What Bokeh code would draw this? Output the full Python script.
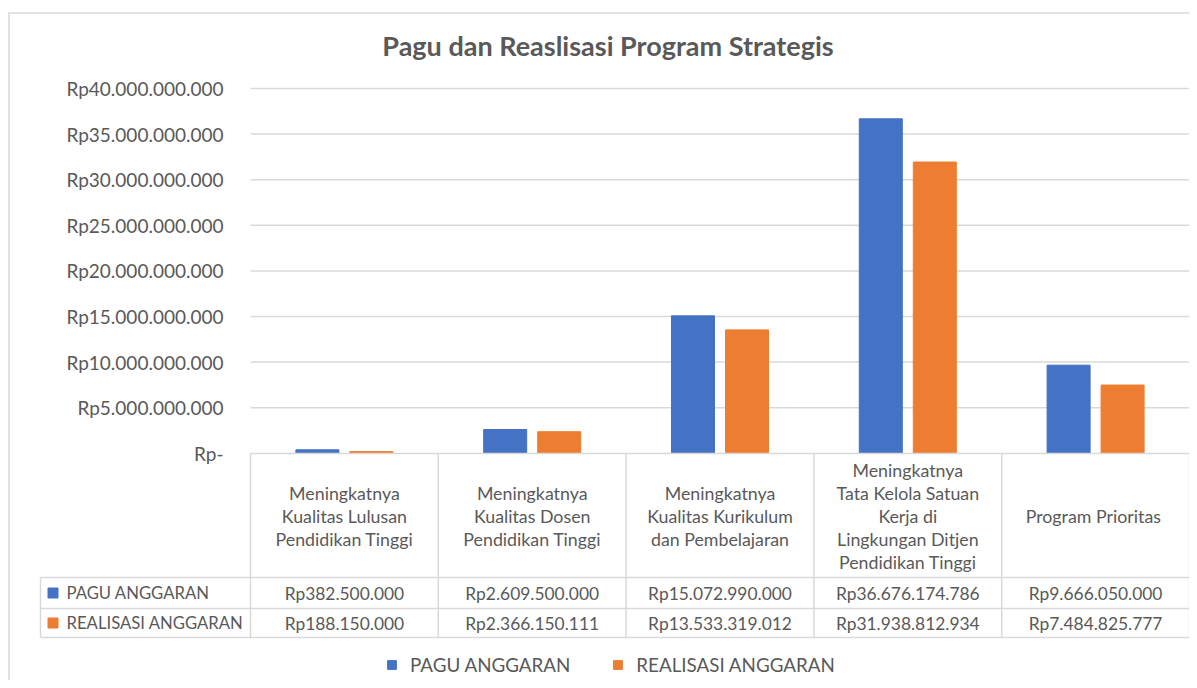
from bokeh.plotting import figure
from bokeh.models import Range1d, Legend, LegendItem
from bokeh.core.properties import value
from bokeh.embed import file_html
from bokeh.resources import INLINE

# ---------------- data ----------------
title_text = "Pagu dan Reaslisasi Program Strategis"
categories = [
    ["Meningkatnya", "Kualitas Lulusan", "Pendidikan Tinggi"],
    ["Meningkatnya", "Kualitas Dosen", "Pendidikan Tinggi"],
    ["Meningkatnya", "Kualitas Kurikulum", "dan Pembelajaran"],
    ["Meningkatnya", "Tata Kelola Satuan", "Kerja di", "Lingkungan Ditjen", "Pendidikan Tinggi"],
    ["Program  Prioritas"],
]
series_names = ["PAGU ANGGARAN", "REALISASI ANGGARAN"]
pagu = [382500000, 2609500000, 15072990000, 36676174786, 9666050000]
realisasi = [188150000, 2366150111, 13533319012, 31938812934, 7484825777]
pagu_labels = ["Rp382.500.000", "Rp2.609.500.000", "Rp15.072.990.000",
               "Rp36.676.174.786", "Rp9.666.050.000"]
realisasi_labels = ["Rp188.150.000", "Rp2.366.150.111", "Rp13.533.319.012",
                    "Rp31.938.812.934", "Rp7.484.825.777"]
tick_values = [0, 5e9, 10e9, 15e9, 20e9, 25e9, 30e9, 35e9, 40e9]
tick_labels = ["Rp-", "Rp5.000.000.000", "Rp10.000.000.000", "Rp15.000.000.000",
               "Rp20.000.000.000", "Rp25.000.000.000", "Rp30.000.000.000",
               "Rp35.000.000.000", "Rp40.000.000.000"]
colors = ["#4472C4", "#ED7D31"]

# ---------------- layout helpers (picture pixels -> data) ----------------
W, H = 1189, 680
PX0, CW = 250.0, 187.8          # left of plot area, column width
PY0, PLOT_H = 452.8, 364.8      # y of zero line, height of 0..40bn
K = 40e9 / PLOT_H


def xd(px):
    return (px - PX0) / CW


def yd(py):
    return (PY0 - py) * K


GRID = "#D9D9D9"
TXT = "#595959"
FONT = value("Lato")

p = figure(width=W, height=H, output_backend="svg", toolbar_location=None,
           x_range=Range1d(xd(0), xd(W)), y_range=Range1d(yd(H), yd(0)),
           min_border=0, min_border_left=0, min_border_right=0,
           min_border_top=0, min_border_bottom=0)
p.axis.visible = False
p.grid.visible = False
p.outline_line_color = None
p.background_fill_color = "white"
p.border_fill_color = "white"

# outer chart border (left/top visible in the picture)
p.segment(x0=[xd(8.5), xd(8)], y0=[yd(12), yd(12.5)],
          x1=[xd(8.5), xd(W + 10)], y1=[yd(H + 10), yd(12.5)],
          line_color=GRID, line_width=1.5)

# gridlines
n = len(pagu)
gt = [t for t in tick_values if t > 0]
p.segment(x0=[0] * len(gt), y0=gt, x1=[n] * len(gt), y1=gt,
          line_color=GRID, line_width=1.5)

# y tick labels
p.text(x=[xd(223)] * len(tick_values), y=tick_values, text=tick_labels,
       text_font=FONT, text_font_size="19px", text_color=TXT,
       text_align="right", text_baseline="middle")

# bars
bw, off = 0.229, 0.1438
xs = [i + 0.5 for i in range(n)]
r1 = p.vbar(x=[x - off for x in xs], top=pagu, bottom=0, width=bw,
            fill_color=colors[0], line_color=colors[0])
r2 = p.vbar(x=[x + off for x in xs], top=realisasi, bottom=0, width=bw,
            fill_color=colors[1], line_color=colors[1])

# data table lines
row_y = [453, 577, 608, 637]
p.segment(x0=[0], y0=[yd(row_y[0])], x1=[n], y1=[yd(row_y[0])],
          line_color=GRID, line_width=1.5)
p.segment(x0=[xd(40)] * 3, y0=[yd(v) for v in row_y[1:]],
          x1=[n] * 3, y1=[yd(v) for v in row_y[1:]],
          line_color=GRID, line_width=1.5)
p.segment(x0=list(range(n + 1)), y0=[yd(row_y[0])] * (n + 1),
          x1=list(range(n + 1)), y1=[yd(row_y[3])] * (n + 1),
          line_color=GRID, line_width=1.5)
p.segment(x0=[xd(40)], y0=[yd(row_y[1])], x1=[xd(40)], y1=[yd(row_y[3])],
          line_color=GRID, line_width=1.5)

# category labels
cx, cy, ct = [], [], []
for i, lines in enumerate(categories):
    m = len(lines)
    for j, s in enumerate(lines):
        cx.append(i + 0.5)
        cy.append(yd(515 + (j - (m - 1) / 2) * 23))
        ct.append(s)
p.text(x=cx, y=cy, text=ct, text_font=FONT, text_font_size="17.8px",
       text_color=TXT, text_align="center", text_baseline="middle")

# value rows
p.text(x=xs, y=[yd(592.5)] * n, text=pagu_labels, text_font=FONT,
       text_font_size="17.4px", text_color=TXT, text_align="center",
       text_baseline="middle")
p.text(x=xs, y=[yd(622.5)] * n, text=realisasi_labels, text_font=FONT,
       text_font_size="17.4px", text_color=TXT, text_align="center",
       text_baseline="middle")

# row headers
p.rect(x=[xd(52.5)] * 2, y=[yd(592.5), yd(622.5)], width=10 / CW,
       height=10 * K, fill_color=colors, line_color=colors)
p.text(x=[xd(66)] * 2, y=[yd(592.5), yd(622.5)], text=series_names,
       text_font=FONT, text_font_size="16.7px", text_color=TXT,
       text_align="left", text_baseline="middle")

# title
p.text(x=[xd(607.5)], y=[yd(45)], text=[title_text], text_font=FONT,
       text_font_size="27px", text_font_style="bold", text_color=TXT,
       text_align="center", text_baseline="middle")

# legend
legend = Legend(items=[LegendItem(label=series_names[0], renderers=[r1]),
                       LegendItem(label=series_names[1], renderers=[r2])],
                orientation="horizontal", location=(386, 4),
                glyph_width=11, glyph_height=11, label_standoff=13,
                spacing=42, padding=0, margin=0, label_height=20,
                label_text_font="Lato", label_text_font_size="18.8px",
                label_text_color=TXT, border_line_color=None,
                background_fill_alpha=0)
p.add_layout(legend)

open("out.html", "w").write(file_html(p, INLINE))
